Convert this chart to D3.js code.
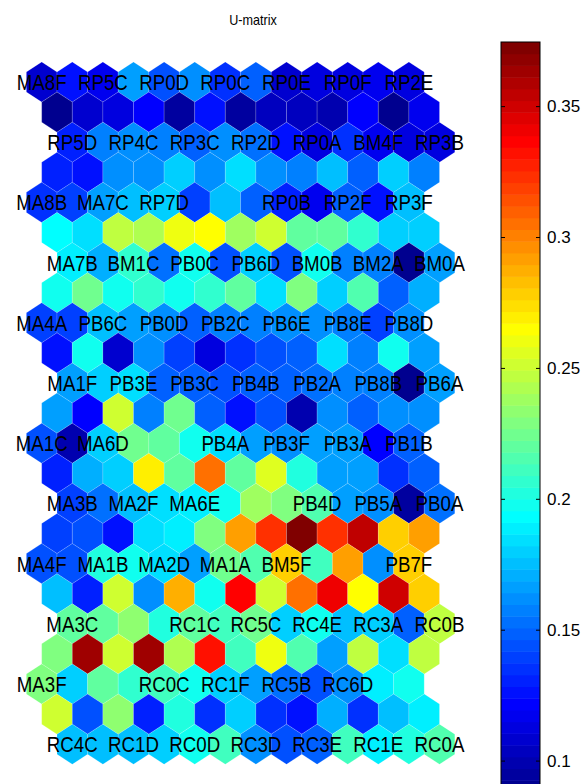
<!DOCTYPE html>
<html>
<head>
<meta charset="utf-8">
<script src="https://cdn.jsdelivr.net/npm/d3@7"></script>
<style>
  body { margin: 0; background: #fff; }
  text { font-family: "Liberation Sans", Arial, Helvetica, sans-serif; }
</style>
</head>
<body>
<svg id="chart" width="582" height="784"></svg>
<script>
// U-matrix values, 23 rows x 13 columns
var umat = [
  [0.110,0.125,0.118,0.167,0.143,0.163,0.137,0.147,0.110,0.112,0.112,0.117,0.112],
  [0.092,0.110,0.112,0.120,0.095,0.127,0.095,0.105,0.105,0.097,0.120,0.092,0.117],
  [0.132,0.157,0.160,0.157,0.150,0.163,0.155,0.128,0.112,0.137,0.117,0.112,0.112],
  [0.132,0.128,0.160,0.160,0.178,0.163,0.186,0.160,0.157,0.175,0.150,0.178,0.157],
  [0.137,0.140,0.167,0.175,0.178,0.140,0.175,0.150,0.130,0.115,0.147,0.125,0.175],
  [0.193,0.186,0.247,0.243,0.260,0.266,0.239,0.253,0.218,0.218,0.205,0.178,0.178],
  [0.190,0.170,0.205,0.155,0.196,0.143,0.180,0.143,0.196,0.157,0.157,0.092,0.167],
  [0.196,0.226,0.196,0.205,0.196,0.205,0.218,0.186,0.228,0.178,0.214,0.147,0.170],
  [0.138,0.138,0.175,0.167,0.160,0.147,0.157,0.157,0.160,0.163,0.157,0.138,0.160],
  [0.125,0.196,0.107,0.163,0.140,0.112,0.133,0.145,0.147,0.183,0.157,0.198,0.165],
  [0.165,0.178,0.186,0.147,0.147,0.143,0.147,0.150,0.153,0.157,0.157,0.092,0.167],
  [0.167,0.120,0.250,0.157,0.225,0.147,0.127,0.143,0.100,0.160,0.147,0.163,0.163],
  [0.143,0.100,0.180,0.225,0.218,0.196,0.183,0.167,0.163,0.167,0.165,0.120,0.147],
  [0.132,0.170,0.180,0.268,0.218,0.306,0.220,0.255,0.200,0.167,0.167,0.137,0.147],
  [0.140,0.155,0.175,0.186,0.190,0.196,0.237,0.228,0.215,0.167,0.163,0.095,0.153],
  [0.140,0.143,0.128,0.186,0.190,0.228,0.292,0.322,0.375,0.325,0.355,0.280,0.292],
  [0.143,0.143,0.203,0.196,0.186,0.167,0.225,0.214,0.280,0.210,0.292,0.163,0.280],
  [0.175,0.132,0.253,0.163,0.286,0.196,0.337,0.253,0.303,0.342,0.265,0.349,0.280],
  [0.218,0.220,0.232,0.200,0.220,0.210,0.225,0.178,0.196,0.175,0.178,0.147,0.247],
  [0.228,0.363,0.253,0.363,0.243,0.330,0.210,0.262,0.214,0.167,0.249,0.186,0.247],
  [0.228,0.178,0.220,0.207,0.210,0.196,0.178,0.167,0.155,0.145,0.163,0.190,0.196],
  [0.253,0.143,0.232,0.132,0.203,0.137,0.178,0.137,0.125,0.170,0.137,0.175,0.190],
  [0.175,0.175,0.175,0.180,0.198,0.212,0.163,0.143,0.150,0.210,0.190,0.200,0.215]
];

// unit labels, 12 map rows x 7 map columns ("" = no hits)
var labels = [
  ["MA8F","RP5C","RP0D","RP0C","RP0E","RP0F","RP2E"],
  ["RP5D","RP4C","RP3C","RP2D","RP0A","BM4F","RP3B"],
  ["MA8B","MA7C","RP7D","",    "RP0B","RP2F","RP3F"],
  ["MA7B","BM1C","PB0C","PB6D","BM0B","BM2A","BM0A"],
  ["MA4A","PB6C","PB0D","PB2C","PB6E","PB8E","PB8D"],
  ["MA1F","PB3E","PB3C","PB4B","PB2A","PB8B","PB6A"],
  ["MA1C","MA6D","",    "PB4A","PB3F","PB3A","PB1B"],
  ["MA3B","MA2F","MA6E","",    "PB4D","PB5A","PB0A"],
  ["MA4F","MA1B","MA2D","MA1A","BM5F","",    "PB7F"],
  ["MA3C","",    "RC1C","RC5C","RC4E","RC3A","RC0B"],
  ["MA3F","",    "RC0C","RC1F","RC5B","RC6D",""],
  ["RC4C","RC1D","RC0D","RC3D","RC3E","RC1E","RC0A"]
];

var cbTicks = [0.1, 0.15, 0.2, 0.25, 0.3, 0.35];
var vmin = 0.088, vmax = 0.3745;

// matlab jet(m)
function jet(m) {
  var n = Math.ceil(m / 4), u = [], i;
  for (i = 1; i <= n; i++) u.push(i / n);
  for (i = 1; i < n; i++) u.push(1);
  for (i = n; i >= 1; i--) u.push(i / n);
  var off = Math.ceil(n / 2) - (m % 4 == 1 ? 1 : 0);
  var J = d3.range(m).map(function() { return [0, 0, 0]; });
  u.forEach(function(val, k) {
    var g = off + k + 1, r = g + n;
    if (g <= m) J[g - 1][1] = val;
    if (r <= m) J[r - 1][0] = val;
  });
  var bs = [];
  u.forEach(function(val, k) { var b = off + k + 1 - n; if (b >= 1) bs.push(b); });
  bs.forEach(function(b, k) { J[b - 1][2] = u[u.length - bs.length + k]; });
  return J.map(function(c) { return d3.rgb(c[0] * 255, c[1] * 255, c[2] * 255).toString(); });
}

var jetColors = jet(64);
var color = d3.scaleQuantize().domain([vmin, vmax]).range(jetColors);

var svg = d3.select("#chart");

// hex lattice: u-matrix rows zigzag by 0, .5, 1, .5 columns
var shift = [0, 0.5, 1, 0.5];
var xs = d3.scaleLinear().domain([0, 1]).range([41.7, 72.3]);
var ys = d3.scaleLinear().domain([0, 22]).range([82, 744.2]);
var hw = (xs(1) - xs(0)) / 2,
    hh = (ys(1) - ys(0)) * 2 / 3;
var hex = [[0, -hh], [hw, -hh / 2], [hw, hh / 2], [0, hh], [-hw, hh / 2], [-hw, -hh / 2]];

var cells = [];
umat.forEach(function(row, r) {
  row.forEach(function(v, c) { cells.push({r: r, c: c, v: v}); });
});

svg.append("g").selectAll("path")
  .data(cells)
  .join("path")
  .attr("d", function(d) {
    var cx = xs(d.c + shift[d.r % 4]), cy = ys(d.r);
    return d3.line()(hex.map(function(p) { return [cx + p[0], cy + p[1]]; })) + "Z";
  })
  .attr("fill", function(d) { return color(d.v); })
  .attr("stroke", "rgba(255,255,255,0.25)")
  .attr("stroke-width", 0.6);

// labels sit on the map units (every second u-matrix row/column)
var labs = [];
labels.forEach(function(row, i) {
  row.forEach(function(t, j) {
    if (t) labs.push({t: t, x: xs(2 * j + shift[(2 * i) % 4]), y: ys(2 * i)});
  });
});
svg.append("g").selectAll("text")
  .data(labs)
  .join("text")
  .attr("transform", function(d) { return "translate(" + d.x + "," + (d.y + 8) + ") scale(0.85,1)"; })
  .attr("text-anchor", "middle")
  .attr("font-size", 22)
  .attr("fill", "#000")
  .text(function(d) { return d.t; });

// title
svg.append("text")
  .attr("transform", "translate(253,25) scale(0.9,1)")
  .attr("text-anchor", "middle")
  .attr("font-size", 14)
  .text("U-matrix");

// colorbar
var cbX = 501, cbW = 39, cbTop = 42, cbBot = 792;
var cy = d3.scaleLinear().domain([vmin, vmax]).range([cbBot, cbTop]);
var step = (vmax - vmin) / 64;
var cb = svg.append("g");
cb.selectAll("rect")
  .data(jetColors)
  .join("rect")
  .attr("x", cbX).attr("width", cbW)
  .attr("y", function(d, k) { return cy(vmin + (k + 1) * step); })
  .attr("height", function(d, k) { return cy(vmin + k * step) - cy(vmin + (k + 1) * step) + 0.5; })
  .attr("fill", function(d) { return d; });
cb.append("rect")
  .attr("x", cbX).attr("y", cbTop).attr("width", cbW).attr("height", cbBot - cbTop)
  .attr("fill", "none").attr("stroke", "#000").attr("stroke-width", 1);

var axR = svg.append("g")
  .attr("transform", "translate(" + (cbX + cbW) + ",0)")
  .call(d3.axisRight(cy).tickValues(cbTicks).tickSize(-4).tickPadding(7)
        .tickFormat(function(d) { return String(d); }));
var axL = svg.append("g")
  .attr("transform", "translate(" + cbX + ",0)")
  .call(d3.axisRight(cy).tickValues(cbTicks).tickSize(4).tickFormat(""));
[axR, axL].forEach(function(a) {
  a.select(".domain").remove();
  a.selectAll("line").attr("stroke", "#000");
  a.selectAll("text").attr("font-size", 17).attr("fill", "#000")
    .style("font-family", "'Liberation Sans', Arial, sans-serif");
});
</script>
</body>
</html>
